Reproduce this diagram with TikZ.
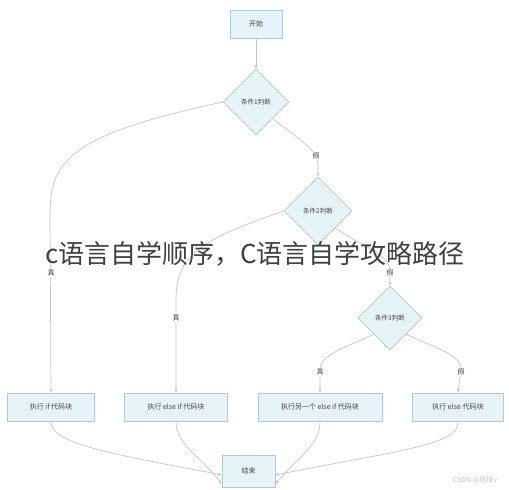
\documentclass[tikz,border=0pt]{standalone}
\usepackage{fontspec}
\setmainfont{Noto Sans CJK SC}
\usetikzlibrary{shapes.geometric,arrows.meta}
\definecolor{boxfill}{HTML}{E6F4FA}
\definecolor{boxline}{HTML}{A9CBDA}
\definecolor{edgecol}{HTML}{C4C4C4}
\definecolor{txt}{HTML}{444444}
\tikzset{
  procbox/.style={draw=boxline, fill=boxfill, line width=0.7pt, minimum height=28pt, inner sep=0pt, font=\fontsize{7}{8}\selectfont, text=txt},
  decide/.style={diamond, draw=boxline, fill=boxfill, line width=0.7pt, minimum width=66pt, minimum height=66pt, inner sep=0pt, font=\fontsize{6.5}{8}\selectfont, text=txt},
  flow/.style={draw=edgecol, line width=0.7pt, -{Stealth[length=4pt,width=3.2pt]}},
  lbl/.style={font=\fontsize{7}{8}\selectfont, text=txt, fill=white, inner sep=1pt},
}
\begin{document}
\begin{tikzpicture}[x=1pt,y=-1pt]
\useasboundingbox (0,0) rectangle (509,490);
\node[procbox, minimum width=52pt] (start) at (256,24) {开始};
\node[decide] (d1) at (256,102) {条件1判断};
\node[decide, minimum width=68pt, minimum height=68pt] (d2) at (318,211) {条件2判断};
\node[decide, minimum width=64pt, minimum height=64pt] (d3) at (390,318) {条件3判断};
\node[procbox, minimum width=87pt] (b1) at (51,407) {执行 if 代码块};
\node[procbox, minimum width=103pt] (b2) at (176,407) {执行 else if 代码块};
\node[procbox, minimum width=124pt] (b3) at (320,407) {执行另一个 else if 代码块};
\node[procbox, minimum width=91pt] (b4) at (458,407) {执行 else 代码块};
\node[procbox, minimum width=53pt, minimum height=32pt] (end) at (248.5,471) {结束};

\draw[flow] (start) -- (d1);
\draw[flow] (d1.west) .. controls (70,135) and (50,160) .. (50,215) -- (b1.north);
\draw[flow] (d1.south east) .. controls (300,140) and (318,150) .. (318,165) -- (d2.north);
\draw[flow] (d2.west) .. controls (200,240) and (176,255) .. (176,300) -- (b2.north);
\draw[flow] (d2.south east) .. controls (360,245) and (390,255) .. (390,270) -- (d3.north);
\draw[flow] (d3.south west) .. controls (340,350) and (320,355) .. (320,370) -- (b3.north);
\draw[flow] (d3.south east) .. controls (440,350) and (461,355) .. (461,370) -- (b4.north);
\node[lbl] at (51,273) {真};
\node[lbl] at (316,156) {假};
\node[lbl] at (176,318) {真};
\node[lbl] at (390,273) {假};
\node[lbl] at (320,372) {真};
\node[lbl] at (461,372) {假};

\draw[flow] (b1.south) .. controls (50,445) and (120,455) .. ([yshift=-4pt]end.west);
\draw[flow] (b2.south) .. controls (176,445) and (200,455) .. ([yshift=-13pt]end.west);
\draw[flow] (b3.south) .. controls (320,445) and (300,455) .. ([yshift=-13pt]end.east);
\draw[flow] (b4.south) .. controls (460,445) and (400,450) .. ([yshift=-4pt]end.east);

\node[font=\fontsize{26}{28}\selectfont, text=black!75, inner sep=0pt] (title) at (255,254) {c语言自学顺序，C语言自学攻略路径};
\node[font=\fontsize{7}{8}\selectfont, text=black!25, inner sep=0pt] (wm) at (475,480) {CSDN @丽技v};
\end{tikzpicture}
\end{document}
